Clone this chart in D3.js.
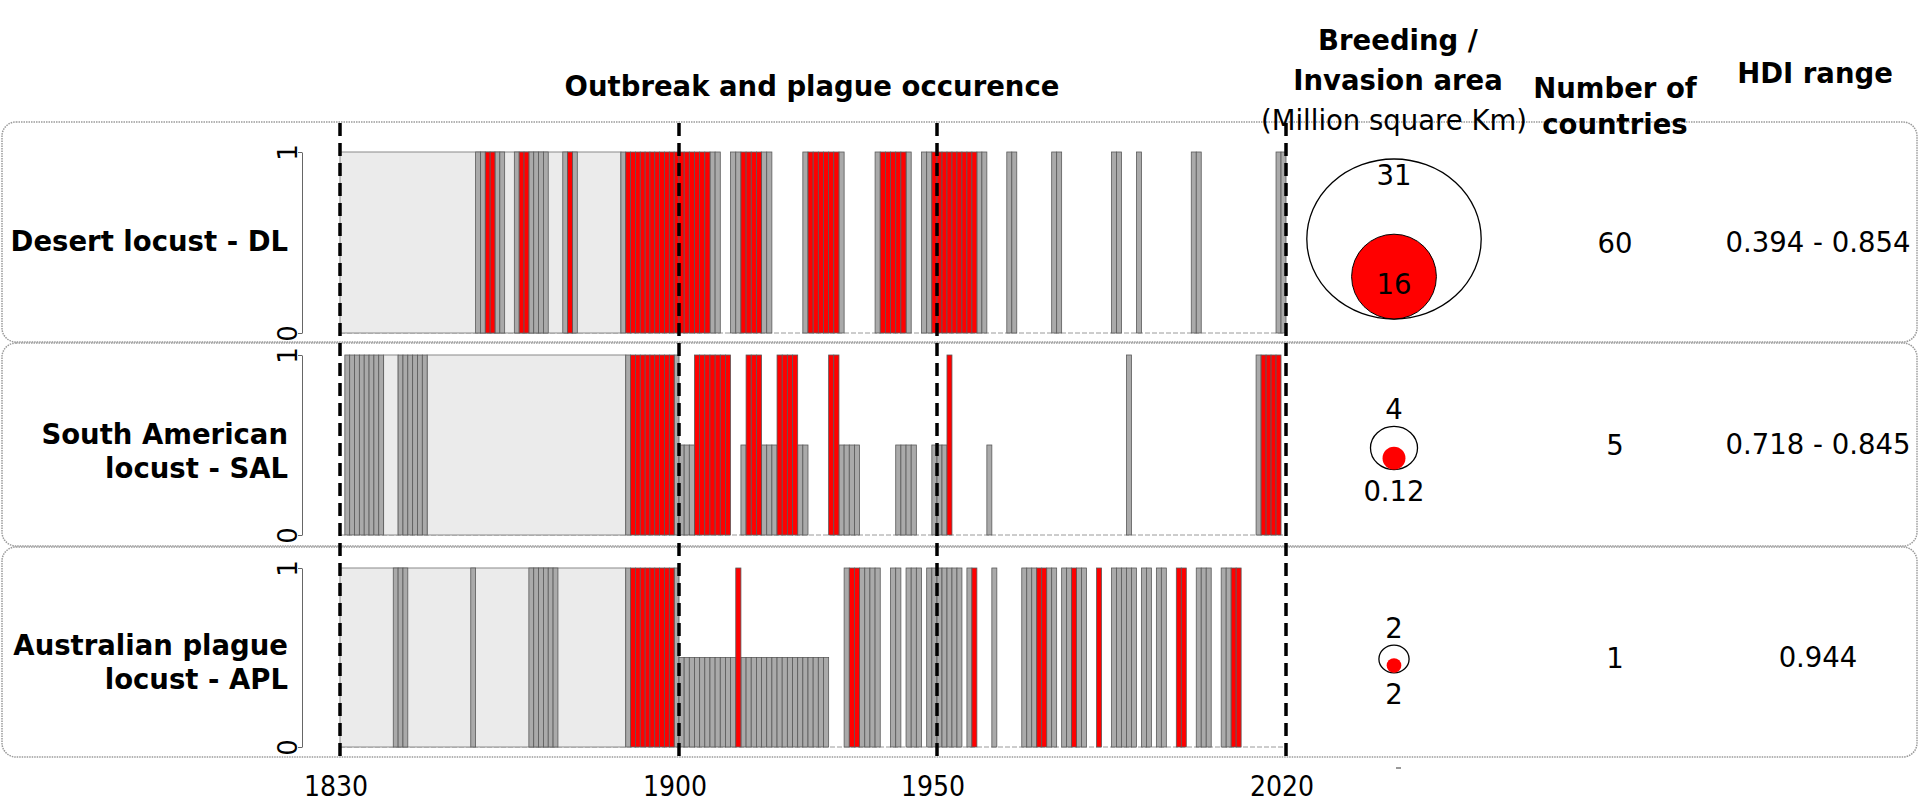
<!DOCTYPE html>
<html>
<head>
<meta charset="utf-8">
<script src="https://cdn.jsdelivr.net/npm/d3@7"></script>
<style>
  body { margin: 0; background: #fff; }
  text { font-family: "DejaVu Sans", sans-serif; fill: #000; }
</style>
</head>
<body>
<div id="chart"></div>
<script>
// ---- data ----
const speciesLabels = [["Desert locust - DL"], ["South American", "locust - SAL"], ["Australian plague", "locust - APL"]];
const yearTicks = [1830, 1900, 1950, 2020];

// runs of years [first, last]; grey = outbreak (full), red = plague, half = half-height bars, light = no record period
const dlOutbreak = [[1858,1859],[1862,1863],[1866,1866],[1869,1872],[1876,1876],[1878,1878],[1888,1888],[1906,1907],[1910,1911],[1916,1917],[1924,1924],[1931,1931],[1938,1938],[1944,1944],[1947,1948],[1958,1959],[1964,1965],[1973,1974],[1985,1986],[1990,1990],[2001,2002],[2018,2019]];
const dlPlague = [[1860,1861],[1867,1868],[1877,1877],[1889,1905],[1912,1915],[1925,1930],[1939,1943],[1949,1957]];
const dlHalf = [];
const dlNoRecord = [[1830,1887]];

const salOutbreak = [[1831,1838],[1842,1847],[1889,1889],[1899,1899],[1988,1988],[2014,2014]];
const salPlague = [[1890,1898],[1903,1909],[1913,1915],[1919,1922],[1929,1930],[1952,1952],[2015,2018]];
const salHalf = [[1900,1902],[1912,1912],[1916,1918],[1923,1924],[1931,1934],[1942,1945],[1949,1951],[1960,1960]];
const salNoRecord = [[1839,1841],[1848,1888]];

const aplOutbreak = [[1841,1843],[1857,1857],[1869,1874],[1889,1889],[1899,1899],[1932,1932],[1935,1938],[1941,1942],[1944,1946],[1948,1954],[1956,1956],[1961,1961],[1967,1969],[1972,1973],[1975,1976],[1978,1978],[1979,1979],[1985,1989],[1991,1992],[1994,1995],[2002,2004],[2007,2008]];
const aplPlague = [[1890,1898],[1911,1911],[1933,1934],[1957,1957],[1970,1971],[1977,1977],[1982,1982],[1998,1999],[2009,2010]];
const aplHalf = [[1900,1910],[1912,1928]];
const aplNoRecord = [[1830,1888]];

const invasionArea = [31, 4, 2];     // outer circle, million km2
const breedingArea = [16, 0.12, 2];  // inner red circle
const nCountries = [60, 5, 1];
const hdiRange = ["0.394 - 0.854", "0.718 - 0.845", "0.944"];

// ---- layout ----
const width = 1920, height = 807;
const panelBoxes = [[122, 342], [343, 546], [547, 757]];
const plotTops = [152, 355, 568];
const plotBottoms = [333, 535, 747];
const labelShift = [-2, 6, 4];     // nudges for the row texts
const circleShift = [-3.5, 3, 1.5];
const circleX = 1394, countriesX = 1615, hdiX = 1818, axisX = 302;
const fontSize = 27.5;

const svg = d3.select("#chart").append("svg")
  .attr("width", width)
  .attr("height", height);

// year scale (bars are not evenly spread in the original, so piecewise)
const x = d3.scaleLinear().domain(yearTicks).range([340, 679, 937, 1286]);

const seriesList = [
  { outbreak: dlOutbreak, plague: dlPlague, half: dlHalf, noRecord: dlNoRecord },
  { outbreak: salOutbreak, plague: salPlague, half: salHalf, noRecord: salNoRecord },
  { outbreak: aplOutbreak, plague: aplPlague, half: aplHalf, noRecord: aplNoRecord }
];

function expand(runs, value, fill) {
  const out = [];
  runs.forEach(([a, b]) => {
    for (let yr = a; yr <= b; yr++) out.push({ year: yr, value: value, fill: fill });
  });
  return out;
}

// panel frames
svg.selectAll("rect.panel")
  .data(panelBoxes)
  .join("rect")
  .attr("class", "panel")
  .attr("x", 2)
  .attr("y", d => d[0])
  .attr("width", 1915)
  .attr("height", d => d[1] - d[0])
  .attr("rx", 14)
  .attr("fill", "none")
  .attr("stroke", "#9a9a9a")
  .attr("stroke-width", 1.5)
  .attr("stroke-dasharray", "1.5,1");

const rScale = d3.scalePow().exponent(0.64).domain([0, d3.max(invasionArea)]).range([0, 80]);

seriesList.forEach((s, i) => {
  const y = d3.scaleLinear().domain([0, 1]).range([plotBottoms[i], plotTops[i]]);
  const g = svg.append("g");

  // zero baseline (zero-height bars)
  g.append("line")
    .attr("x1", x(1830)).attr("x2", x(2020))
    .attr("y1", y(0)).attr("y2", y(0))
    .attr("stroke", "#9a9a9a")
    .attr("stroke-width", 1)
    .attr("stroke-dasharray", "5,2");

  // periods without records
  g.selectAll("rect.norec")
    .data(s.noRecord)
    .join("rect")
    .attr("class", "norec")
    .attr("x", d => x(d[0]))
    .attr("width", d => x(d[1] + 1) - x(d[0]))
    .attr("y", y(1))
    .attr("height", y(0) - y(1))
    .attr("fill", "#ebebeb")
    .attr("stroke", "#8a8a8a")
    .attr("stroke-width", 1);

  const bars = expand(s.outbreak, 1, "#aaaaaa")
    .concat(expand(s.half, 0.5, "#aaaaaa"))
    .concat(expand(s.plague, 1, "#ff0000"));

  g.selectAll("rect.bar")
    .data(bars)
    .join("rect")
    .attr("class", "bar")
    .attr("x", d => x(d.year))
    .attr("width", d => x(d.year + 1) - x(d.year))
    .attr("y", d => y(d.value))
    .attr("height", d => y(0) - y(d.value))
    .attr("fill", d => d.fill)
    .attr("stroke", "#5a5a5a")
    .attr("stroke-width", 0.8);

  // y axis, R style with rotated labels
  const axis = g.append("g")
    .attr("transform", `translate(${axisX},0)`)
    .call(d3.axisLeft(y).tickValues([0, 1]).tickFormat(d3.format("d")).tickSize(4).tickSizeOuter(0));
  axis.select(".domain").attr("stroke", "#666");
  axis.selectAll(".tick line").attr("stroke", "#666");
  axis.selectAll(".tick text")
    .attr("x", 0)
    .attr("y", -5)
    .attr("dy", 0)
    .attr("text-anchor", "middle")
    .attr("transform", "rotate(-90)")
    .style("font-family", "DejaVu Sans")
    .style("font-size", "26px");

  // species label
  const lines = speciesLabels[i];
  const mid = (plotTops[i] + plotBottoms[i]) / 2;
  g.append("text")
    .attr("text-anchor", "end")
    .attr("font-weight", "bold")
    .attr("font-size", fontSize)
    .selectAll("tspan")
    .data(lines)
    .join("tspan")
    .attr("x", 288)
    .attr("y", (d, k) => mid + 10 + labelShift[i] + (k - (lines.length - 1) / 2) * 34)
    .text(d => d);

  // breeding / invasion area circles
  const ro = rScale(invasionArea[i]);
  const ri = ro * 0.53;
  const cy = mid + circleShift[i];
  const inside = ro > 50;
  g.append("ellipse")
    .attr("cx", circleX).attr("cy", cy)
    .attr("rx", ro * 1.09).attr("ry", ro)
    .attr("fill", "none").attr("stroke", "#000").attr("stroke-width", 1.3);
  g.append("circle")
    .attr("cx", circleX).attr("cy", cy + ro - ri)
    .attr("r", ri)
    .attr("fill", "#ff0000").attr("stroke", inside ? "#000" : "none").attr("stroke-width", 1);
  g.append("text")
    .attr("x", circleX)
    .attr("y", inside ? cy - ro + 26 : cy - ro - 7)
    .attr("text-anchor", "middle")
    .attr("font-size", fontSize)
    .text(invasionArea[i]);
  g.append("text")
    .attr("x", circleX)
    .attr("y", inside ? cy + ro - ri + 17 : cy + ro + 31)
    .attr("text-anchor", "middle")
    .attr("font-size", fontSize)
    .text(breedingArea[i]);

  g.append("text")
    .attr("x", countriesX).attr("y", mid + 10)
    .attr("text-anchor", "middle")
    .attr("font-size", fontSize)
    .text(nCountries[i]);
  g.append("text")
    .attr("x", hdiX).attr("y", mid + 9)
    .attr("text-anchor", "middle")
    .attr("font-size", fontSize)
    .text(hdiRange[i]);
});

// period separators
svg.selectAll("line.sep")
  .data(yearTicks)
  .join("line")
  .attr("class", "sep")
  .attr("x1", d => x(d)).attr("x2", d => x(d))
  .attr("y1", 123).attr("y2", 757)
  .attr("stroke", "#000")
  .attr("stroke-width", 3.5)
  .attr("stroke-dasharray", "13,7");

// year labels
svg.selectAll("text.year")
  .data(yearTicks)
  .join("text")
  .attr("class", "year")
  .attr("x", d => x(d) - 4)
  .attr("y", 796)
  .attr("text-anchor", "middle")
  .style("font-family", "'Liberation Sans Narrow', 'DejaVu Sans Condensed', sans-serif")
  .style("font-size", "28px")
  .text(d => d);

// stray tick mark under the circle column
svg.append("line")
  .attr("x1", circleX + 2).attr("x2", circleX + 7)
  .attr("y1", 768).attr("y2", 768)
  .attr("stroke", "#555").attr("stroke-width", 1.2);

// column headers
const headers = [
  { text: "Outbreak and plague occurence", x: 812, y: 96, bold: true },
  { text: "Breeding /", x: 1398, y: 50, bold: true },
  { text: "Invasion area", x: 1398, y: 90, bold: true },
  { text: "(Million square Km)", x: 1394, y: 130, bold: false },
  { text: "Number of", x: 1615, y: 98, bold: true },
  { text: "countries", x: 1615, y: 134, bold: true },
  { text: "HDI range", x: 1815, y: 83, bold: true }
];
svg.selectAll("text.header")
  .data(headers)
  .join("text")
  .attr("class", "header")
  .attr("x", d => d.x)
  .attr("y", d => d.y)
  .attr("text-anchor", "middle")
  .attr("font-size", fontSize)
  .attr("font-weight", d => d.bold ? "bold" : "normal")
  .text(d => d.text);
</script>
</body>
</html>
